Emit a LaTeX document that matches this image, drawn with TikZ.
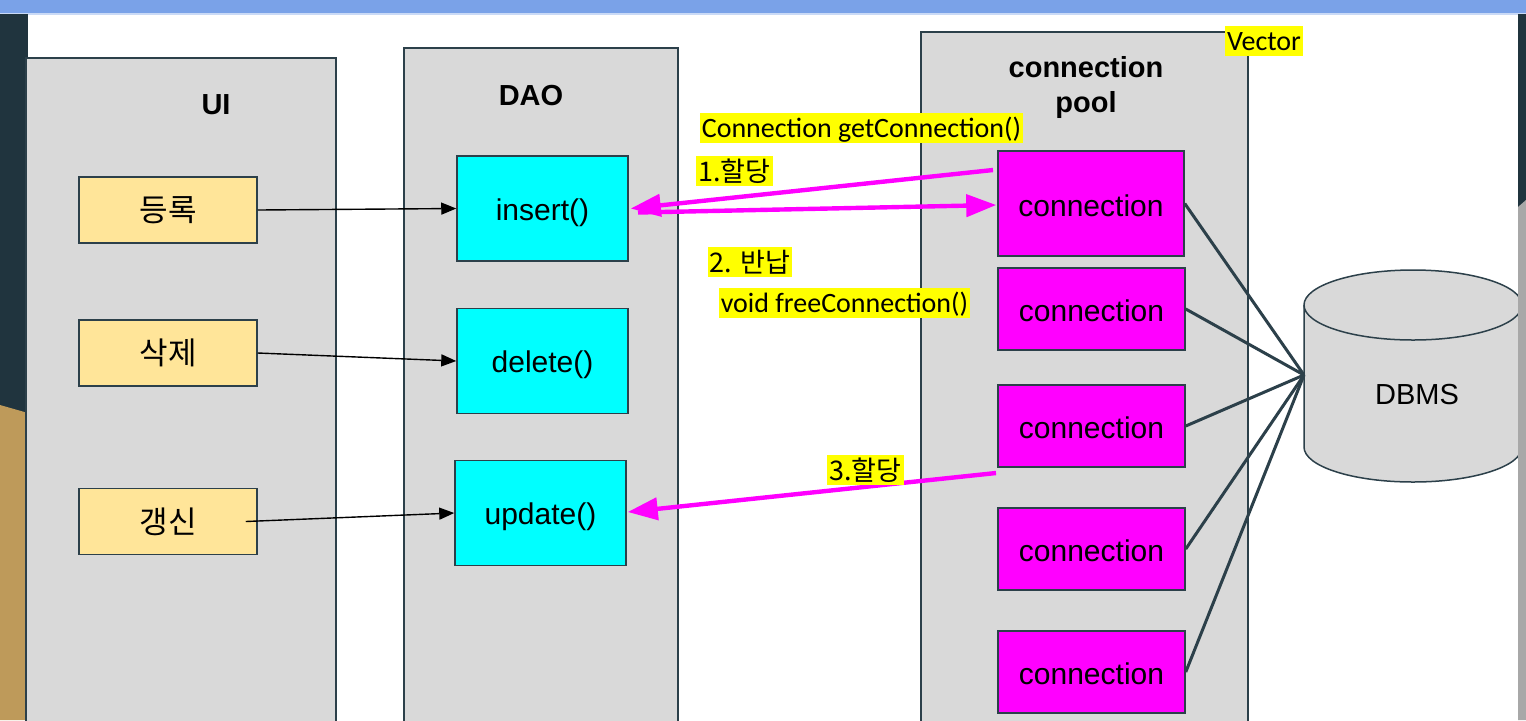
\documentclass[tikz,border=0pt]{standalone}
\usepackage{fontspec}
\setmainfont{Liberation Sans}
\newfontfamily\cjk{Noto Sans CJK KR}
\newfontfamily\carl{Carlito}
\usetikzlibrary{arrows.meta}
\definecolor{panelfill}{RGB}{217,217,217}
\definecolor{slate}{RGB}{44,64,74}
\definecolor{uiyellow}{RGB}{255,229,153}
\definecolor{daocyan}{RGB}{0,255,255}
\definecolor{connmag}{RGB}{255,0,255}
\definecolor{hilite}{RGB}{255,255,0}
\definecolor{stripdark}{RGB}{32,52,62}
\definecolor{stripgold}{RGB}{190,154,90}
\definecolor{stripgrey}{RGB}{168,168,168}
\definecolor{topbar}{RGB}{122,162,232}
\tikzset{
  panel/.style={fill=panelfill,draw=slate,line width=0.75pt},
  title/.style={font=\fontsize{14.5}{17.5}\selectfont\bfseries,align=center,text=black},
  uibox/.style={draw=slate,fill=uiyellow,line width=0.75pt,minimum width=89pt,minimum height=33pt,inner sep=0pt,font=\fontsize{15.5}{17}\selectfont\cjk},
  daobox/.style={draw=slate,fill=daocyan,line width=0.75pt,minimum width=85.5pt,minimum height=52.5pt,inner sep=0pt,text height=11.5pt,text depth=0pt,font=\fontsize{15}{17}\selectfont},
  connbox/.style={draw=slate,fill=connmag,line width=0.75pt,minimum width=93.5pt,minimum height=41pt,inner sep=0pt,text height=12.8pt,text depth=0pt,font=\fontsize{15}{17}\selectfont},
  note/.style={fill=hilite,inner xsep=1pt,inner ysep=0pt,minimum height=15pt,text height=12pt,text depth=2.5pt,font=\fontsize{14}{16}\selectfont\carl},
  knote/.style={fill=hilite,inner xsep=1pt,inner ysep=0pt,minimum height=15pt,font=\fontsize{13.5}{16}\selectfont\cjk},
  callarrow/.style={draw=black,line width=0.7pt,-{Triangle[length=7.5pt,width=6pt]}},
  magarrow/.style={draw=connmag,line width=2.2pt,-{Triangle[length=15pt,width=11pt]}},
  dbline/.style={draw=slate,line width=1.5pt},
}
\begin{document}
\begin{tikzpicture}[x=0.5pt,y=-0.5pt]
\useasboundingbox (0,0) rectangle (1526,720);
% background
\fill[white] (0,0) rectangle (1526,720);
\fill[topbar] (0,0) rectangle (1526,14);
\fill[topbar!40!white] (0,13) rectangle (1526,15);
\fill[stripdark] (0,14) rectangle (28,720);
\fill[stripgold] (0,405) -- (28,413) -- (28,720) -- (0,720) -- cycle;
% panels
\path[panel] (26,58) rectangle (336,730);
\path[panel] (404,48) rectangle (678,730);
\path[panel] (921,32) rectangle (1248,730);
\node[title] (uititle) at (216,105) {UI};
\node[title] (daotitle) at (531,96) {DAO};
\node[title] (pooltitle) at (1086,87) {connection\\pool};
\node[note] (vector) at (1264,41) {Vector};
% UI boxes
\node[uibox] (reg) at (168,210) {등록};
\node[uibox] (del) at (168,353) {삭제};
\node[uibox] (upd) at (168,521.5) {갱신};
% DAO boxes
\node[daobox] (insert) at (542.5,208.5) {insert()};
\node[daobox] (delete) at (542.5,361) {delete()};
\node[daobox] (update) at (540.5,513) {update()};
% connection boxes
\node[connbox,minimum width=93pt,minimum height=52.5pt] (c1) at (1091,203.5) {connection};
\node[connbox] (c2) at (1091.5,309) {connection};
\node[connbox] (c3) at (1091.5,426) {connection};
\node[connbox] (c4) at (1091.5,549) {connection};
\node[connbox] (c5) at (1091.5,672) {connection};
% DBMS cylinder
\path[fill=panelfill,draw=slate,line width=0.75pt]
  (1304,305) -- (1304,447) arc[start angle=180,end angle=0,x radius=109,y radius=35]
  -- (1522,305) arc[start angle=0,end angle=-180,x radius=109,y radius=35] -- cycle;
\draw[slate,line width=0.75pt] (1304,305) arc[start angle=180,end angle=0,x radius=109,y radius=35];
\node[font=\fontsize{14.5}{17}\selectfont] (dbms) at (1417,395) {DBMS};
\coordinate (dbl) at (1304,375);
\foreach \c in {c1,c2,c3,c4,c5}{\draw[dbline] (\c.east) -- (dbl);}
% right strip
\fill[stripdark] (1518,14) rectangle (1526,720);
\fill[stripgrey] (1518,207) -- (1526,200) -- (1526,720) -- (1518,720) -- cycle;
% call arrows
\draw[callarrow] (reg.east) -- (insert.west);
\draw[callarrow] (del.east) -- (delete.west);
\draw[callarrow] ([xshift=-6pt]upd.east) -- (update.west);
% magenta arrows
\coordinate (a1) at (993,170);
\coordinate (b1) at (638,212.5);
\coordinate (c3s) at (996,473);
\draw[magarrow] (a1) -- ([xshift=1pt]insert.east);
\draw[magarrow] (b1) -- ([xshift=-0.5pt,yshift=-0.75pt]c1.west);
\draw[magarrow] (c3s) -- ([xshift=0.5pt,yshift=0.5pt]update.east);
% labels
\node[note] (getc) at (861.5,128) {Connection getConnection()};
\node[knote] (n1) at (734.5,171) {1.할당};
\node[knote] (n2) at (750,262) {2. 반납};
\node[note] (freec) at (844.5,303) {void freeConnection()};
\node[knote] (n3) at (865.5,470) {3.할당};
\end{tikzpicture}
\end{document}
